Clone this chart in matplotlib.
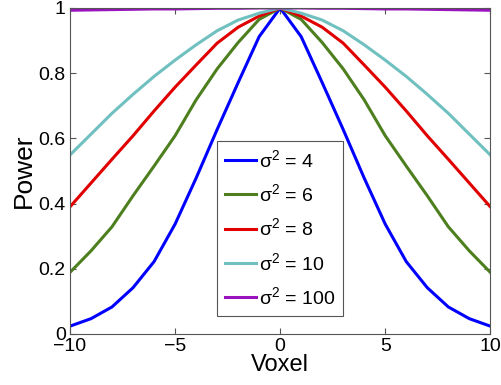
import numpy as np
import matplotlib
matplotlib.use("Agg")
import matplotlib.pyplot as plt

plt.rcParams['font.family'] = ['Liberation Sans', 'DejaVu Sans']
plt.rcParams['mathtext.fontset'] = 'custom'
plt.rcParams['mathtext.rm'] = 'Liberation Sans'
plt.rcParams['axes.unicode_minus'] = True

#dane
voxel = [-10, -9, -8, -7, -6, -5, -4, -3, -2, -1, 0, 1, 2, 3, 4, 5, 6, 7, 8, 9, 10]

power4 = [0.024, 0.047, 0.083, 0.142, 0.222, 0.337, 0.478, 0.627, 0.771, 0.912, 1.0,
          0.912, 0.771, 0.627, 0.478, 0.337, 0.222, 0.142, 0.083, 0.047, 0.024]
power6 = [0.189, 0.255, 0.329, 0.424, 0.515, 0.608, 0.718, 0.813, 0.894, 0.965, 1.0,
          0.965, 0.894, 0.813, 0.718, 0.608, 0.515, 0.424, 0.329, 0.255, 0.189]
power8 = [0.390, 0.463, 0.536, 0.608, 0.684, 0.757, 0.825, 0.892, 0.941, 0.975, 1.0,
          0.975, 0.941, 0.892, 0.825, 0.757, 0.684, 0.608, 0.536, 0.463, 0.390]
power10 = [0.549, 0.613, 0.677, 0.735, 0.790, 0.840, 0.887, 0.930, 0.963, 0.984, 1.0,
           0.984, 0.963, 0.930, 0.887, 0.840, 0.790, 0.735, 0.677, 0.613, 0.549]
power100 = [0.993, 0.994, 0.995, 0.996, 0.997, 0.997, 0.998, 0.999, 0.999, 1.0, 1.0,
            1.0, 0.999, 0.999, 0.998, 0.997, 0.997, 0.996, 0.995, 0.994, 0.993]

series = [power4, power6, power8, power10, power100]
sigmas = ["4", "6", "8", "10", "100"]
colors = ["#0000ff", "#4d7f1f", "#e00000", "#70c0c0", "#9a12bd"]

#wykres
fig = plt.figure(figsize=(5.01, 3.85), dpi=100)
ax = fig.add_axes([0.1397, 0.1325, 0.8390, 0.8468])

for p, s, c in zip(series, sigmas, colors):
    ax.plot(voxel, p, color=c, lw=2.2, label="σ$\\mathregular{^2}$ = " + s)

ax.set_xlim(-10, 10)
ax.set_ylim(0, 1)
ax.set_xticks([-10, -5, 0, 5, 10])
ax.set_yticks([0, 0.2, 0.4, 0.6, 0.8, 1])
ax.set_yticklabels(["0", "0.2", "0.4", "0.6", "0.8", "1"])
ax.tick_params(direction="in", top=True, right=True, length=4, width=0.8,
               color="#555555", labelsize=14, pad=3)
for sp in ax.spines.values():
    sp.set_color("#555555")
    sp.set_linewidth(0.8)

ax.set_xlabel("Voxel", fontsize=17, labelpad=-1)
ax.set_ylabel("Power", fontsize=19, labelpad=2)

leg = ax.legend(loc="lower left", bbox_to_anchor=(0.35, 0.055), fontsize=14,
                fancybox=False, framealpha=1, edgecolor="#555555",
                handlelength=1.6, handletextpad=0.15, labelspacing=0.64,
                borderpad=0.4, borderaxespad=0)
leg.get_frame().set_linewidth(0.8)

fig.savefig("out.png", dpi=100)
